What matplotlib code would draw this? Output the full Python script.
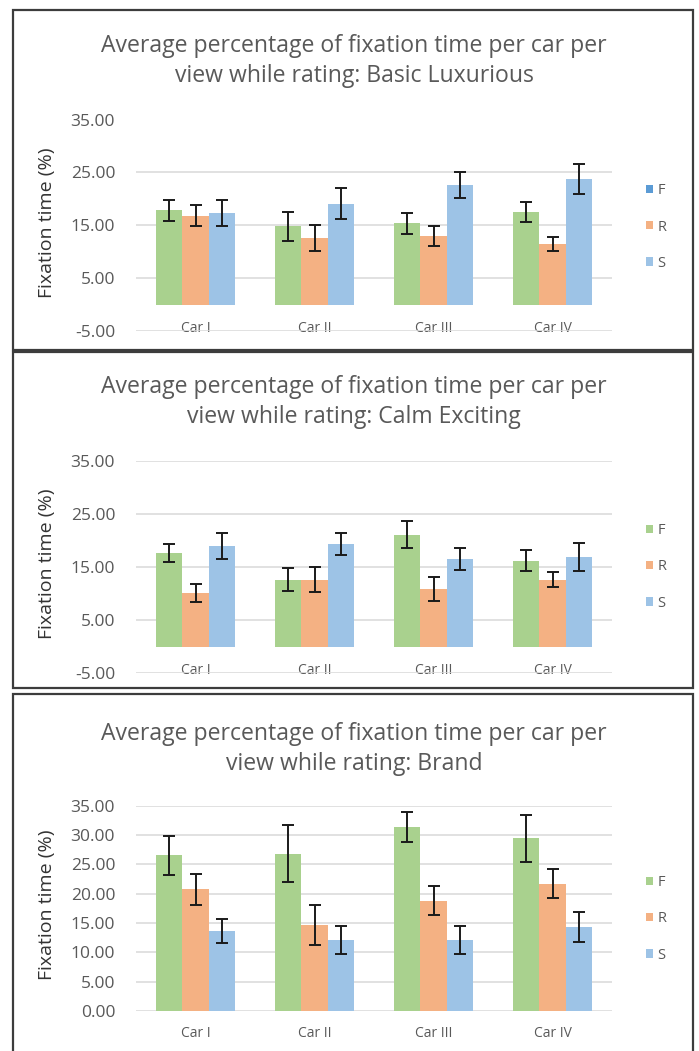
import numpy as np
import matplotlib
matplotlib.use("Agg")
from matplotlib import pyplot as plt
from matplotlib.patches import Patch, Rectangle

plt.rcParams['font.family'] = ['Open Sans', 'DejaVu Sans']

categories = ['Car I', 'Car II', 'Car III', 'Car IV']
series = ['F', 'R', 'S']

# Basic Luxurious
lux_F = [17.8, 14.8, 15.4, 17.5]
lux_R = [16.8, 12.6, 12.9, 11.5]
lux_S = [17.3, 19.1, 22.6, 23.7]
lux_F_err = [2.0, 2.7, 2.0, 1.9]
lux_R_err = [2.0, 2.5, 1.9, 1.3]
lux_S_err = [2.4, 3.0, 2.5, 2.8]

# Calm Exciting
calm_F = [17.6, 12.6, 21.1, 16.2]
calm_R = [10.1, 12.6, 10.8, 12.6]
calm_S = [19.0, 19.4, 16.5, 16.9]
calm_F_err = [1.7, 2.2, 2.5, 2.0]
calm_R_err = [1.7, 2.4, 2.3, 1.4]
calm_S_err = [2.5, 2.1, 2.1, 2.6]

# Brand
brand_F = [26.5, 26.8, 31.3, 29.4]
brand_R = [20.7, 14.6, 18.8, 21.7]
brand_S = [13.7, 12.1, 12.1, 14.3]
brand_F_err = [3.35, 4.85, 2.6, 4.05]
brand_R_err = [2.6, 3.4, 2.45, 2.5]
brand_S_err = [2.05, 2.4, 2.4, 2.6]

bar_colors = ['#a9d18e', '#f4b183', '#9dc3e6']
text_gray = '#595959'

W, H = 699, 1051
fig = plt.figure(figsize=(W / 100, H / 100), dpi=100)


def px_axes(left, right, top, bottom):
    return fig.add_axes([left / W, 1 - bottom / H, (right - left) / W, (bottom - top) / H])


def panel(box, ax_box, title_y, title, vals, errs, yticks, legend_colors, legend_y, xlabel_pad):
    # chart frame
    x0, y0, x1, y1 = box
    fig.add_artist(Rectangle((x0 / W, 1 - y1 / H), (x1 - x0) / W, (y1 - y0) / H,
                             transform=fig.transFigure, fill=False, ec='#3c3c3c', lw=1.6))
    ax = px_axes(*ax_box)
    x = np.arange(len(categories))
    w = 1 / 4.5
    for i, (v, e) in enumerate(zip(vals, errs)):
        ax.bar(x + (i - 1) * w, v, w, color=bar_colors[i], zorder=2)
        ax.errorbar(x + (i - 1) * w, v, yerr=e, fmt='none', ecolor='#1a1a1a',
                    elinewidth=1.4, capsize=4, capthick=1.4, zorder=3)
    ax.set_xlim(-0.5, len(categories) - 0.5)
    ax.set_ylim(yticks[0], yticks[-1])
    ax.set_yticks(yticks)
    ax.set_yticklabels([f'{t:.2f}' for t in yticks])
    ax.yaxis.grid(True, color='#d9d9d9', lw=1.1)
    ax.set_axisbelow(True)
    for s in ax.spines.values():
        s.set_visible(False)
    ax.set_xticks(x)
    ax.set_xticklabels(categories)
    ax.tick_params(length=0, colors=text_gray)
    ax.tick_params(axis='y', pad=15, labelsize=12.5)
    ax.tick_params(axis='x', pad=xlabel_pad, labelsize=10)
    for lbl in ax.get_xticklabels():
        lbl.set_va('center')

    fig.text(354 / W, 1 - title_y / H, title, ha='center', va='center',
             fontsize=16.6, color=text_gray, linespacing=1.3)
    top, bottom = ax_box[2], ax_box[3]
    fig.text(47 / W, 1 - ((top + bottom) / 2 - 3) / H, 'Fixation time (%)', rotation=90,
             ha='center', va='center', fontsize=14, color='#333333')

    handles = [Patch(facecolor=c, edgecolor='none') for c in legend_colors]
    fig.legend(handles, series, loc='center left', bbox_to_anchor=(646 / W, 1 - legend_y / H),
               frameon=False, fontsize=10.5, labelcolor=text_gray, handlelength=0.5,
               handleheight=0.5, handletextpad=0.3, labelspacing=1.45, borderpad=0,
               borderaxespad=0)
    return ax


panel((13, 10, 693, 350), (136, 612, 119.5, 331), 61,
      'Average percentage of fixation time per car per\nview while rating: Basic Luxurious',
      [lux_F, lux_R, lux_S], [lux_F_err, lux_R_err, lux_S_err],
      list(range(-5, 36, 10)), ['#5b9bd5', '#f4b183', '#9dc3e6'], 227, -2)

panel((13, 352, 693, 688), (136, 612, 461, 673), 402,
      'Average percentage of fixation time per car per\nview while rating: Calm Exciting',
      [calm_F, calm_R, calm_S], [calm_F_err, calm_R_err, calm_S_err],
      list(range(-5, 36, 10)), bar_colors, 567, -2)

panel((13, 694, 693, 1060), (136, 612, 805.5, 1011), 749,
      'Average percentage of fixation time per car per\nview while rating: Brand',
      [brand_F, brand_R, brand_S], [brand_F_err, brand_R_err, brand_S_err],
      list(range(0, 36, 5)), bar_colors, 919, 16)

fig.savefig('out.png', dpi=100, facecolor='white')
